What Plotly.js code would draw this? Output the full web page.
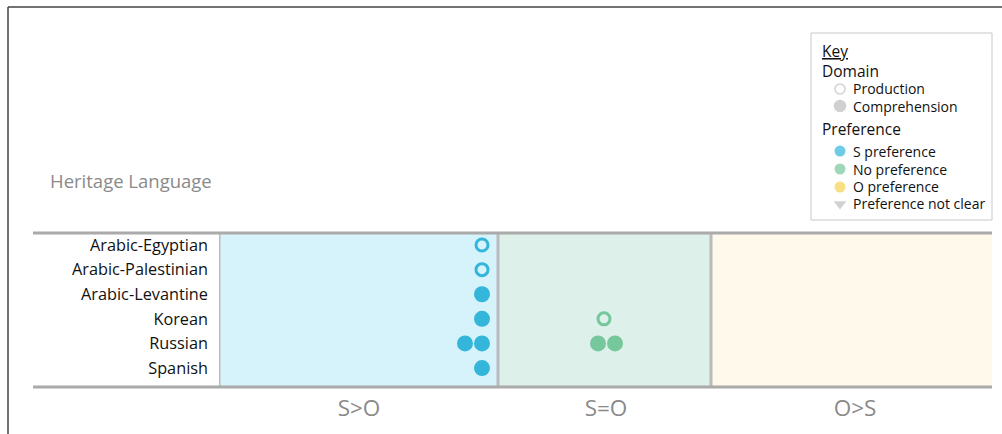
<!DOCTYPE html>
<html>
<head>
<meta charset="utf-8">
<script src="https://cdn.plot.ly/plotly-3.0.1.min.js"></script>
<style>html,body{margin:0;padding:0;background:#fff}#chart{width:1002px;height:434px}</style>
</head>
<body>
<div id="chart"></div>
<script>
// ---- data ----
const languages = ["Arabic-Egyptian","Arabic-Palestinian","Arabic-Levantine","Korean","Russian","Spanish"];
const columns = ["S>O","S=O","O>S"];
// column edges and centres along the horizontal scale
const columnEdges = [0, 279, 492, 773];
const columnCentres = [140, 387, 636];

// each study result: language, position on horizontal scale, domain, preference
const pointLang   = ["Arabic-Egyptian","Arabic-Palestinian","Arabic-Levantine","Korean","Russian","Russian","Spanish","Korean","Russian","Russian"];
const pointPos    = [263, 263, 263, 263, 246, 263, 263, 385, 379, 396];
const pointDomain = ["Production","Production","Comprehension","Comprehension","Comprehension","Comprehension","Comprehension","Production","Comprehension","Comprehension"];
const pointPref   = ["S","S","S","S","S","S","S","No","No","No"];

const prefColors = {S:"#33b6da", No:"#76c79b", O:"#f5d24f", Unclear:"#bdbdbd"};
const panelFills = ["#d6f2fb","#ddf0ea","#fef9eb"];

// legend content
const legendDomainLabels = ["Production","Comprehension"];
const legendPrefLabels = ["S preference","No preference","O preference","Preference not clear"];

// ---- helpers (pixel -> paper) ----
const W = 1002, H = 434;
const PX = x => x / W;
const PY = y => (H - y) / H;

const traces = [];
// main data traces grouped by domain x preference
["Production","Comprehension"].forEach(dom => {
  Object.keys(prefColors).forEach(pref => {
    const xs = [], ys = [];
    pointLang.forEach((l, i) => {
      if (pointDomain[i] === dom && pointPref[i] === pref) { xs.push(pointPos[i]); ys.push(l); }
    });
    if (!xs.length) return;
    const open = dom === "Production";
    traces.push({
      type: "scatter", mode: "markers", x: xs, y: ys, xaxis: "x", yaxis: "y",
      hoverinfo: "skip", showlegend: false,
      marker: open
        ? {symbol: "circle-open", size: 12, color: prefColors[pref], line: {width: 3, color: prefColors[pref]}}
        : {symbol: "circle", size: 16, color: prefColors[pref], line: {width: 0}}
    });
  });
});

// legend markers (on their own axes)
const legX = 29;
traces.push({
  type: "scatter", mode: "markers", xaxis: "x2", yaxis: "y2", hoverinfo: "skip", showlegend: false,
  x: [legX, legX], y: [56, 73],
  marker: {symbol: ["circle-open","circle"], size: [10, 11], color: "#bdbdbd", line: {width: 1.5, color: "#bdbdbd"}}
});
traces.push({
  type: "scatter", mode: "markers", xaxis: "x2", yaxis: "y2", hoverinfo: "skip", showlegend: false,
  x: [legX, legX, legX, legX], y: [118, 136, 154, 171],
  marker: {symbol: ["circle","circle","circle","triangle-down"], size: [11, 11, 11, 11],
           color: [prefColors.S, prefColors.No, prefColors.O, prefColors.Unclear], line: {width: 0}}
});

const shapes = [];
// panel backgrounds
columns.forEach((c, i) => {
  shapes.push({type: "rect", xref: "x", yref: "paper", x0: columnEdges[i], x1: columnEdges[i+1],
    y0: PY(387), y1: PY(233), fillcolor: panelFills[i], line: {width: 0}, layer: "below"});
});
// vertical separators
[0,1,2].forEach(i => {
  shapes.push({type: "line", xref: "x", yref: "paper", x0: columnEdges[i], x1: columnEdges[i],
    y0: PY(387), y1: PY(233), line: {color: "#bbbbbb", width: 3}});
});
// horizontal rules
[233, 387].forEach(y => {
  shapes.push({type: "line", xref: "paper", yref: "paper", x0: PX(33), x1: PX(992),
    y0: PY(y), y1: PY(y), line: {color: "#aaaaaa", width: 3}});
});
// outer frame
shapes.push({type: "line", xref: "paper", yref: "paper", x0: PX(8), x1: PX(8), y0: PY(7), y1: PY(440), line: {color: "#444", width: 1.5}});
shapes.push({type: "line", xref: "paper", yref: "paper", x0: PX(8), x1: PX(1010), y0: PY(7), y1: PY(7), line: {color: "#444", width: 1.5}});
// legend box
shapes.push({type: "rect", xref: "paper", yref: "paper", x0: PX(811), x1: PX(992), y0: PY(220), y1: PY(33),
  line: {color: "#c8c8c8", width: 1}, fillcolor: "#fff", layer: "below"});

const F = "'Open Sans', 'Noto Sans', sans-serif";
const annotations = [
  {text: "Heritage Language", xref: "paper", yref: "paper", x: PX(48), y: PY(180), xanchor: "left", yanchor: "middle",
   showarrow: false, font: {family: F, size: 18.5, color: "#8a8a8a"}},
  {text: "<u>Key</u>", xref: "paper", yref: "paper", x: PX(820), y: PY(51), xanchor: "left", yanchor: "middle",
   showarrow: false, font: {family: F, size: 15.5, color: "#111"}},
  {text: "Domain", xref: "paper", yref: "paper", x: PX(820), y: PY(71), xanchor: "left", yanchor: "middle",
   showarrow: false, font: {family: F, size: 15.5, color: "#111"}},
  {text: "Preference", xref: "paper", yref: "paper", x: PX(820), y: PY(129), xanchor: "left", yanchor: "middle",
   showarrow: false, font: {family: F, size: 15.5, color: "#111"}}
];
const domY = [89, 106], prefY = [151, 169, 187, 204];
legendDomainLabels.forEach((t, i) => annotations.push({text: t, xref: "paper", yref: "paper", x: PX(851), y: PY(domY[i]),
  xanchor: "left", yanchor: "middle", showarrow: false, font: {family: F, size: 14, color: "#111"}}));
legendPrefLabels.forEach((t, i) => annotations.push({text: t, xref: "paper", yref: "paper", x: PX(851), y: PY(prefY[i]),
  xanchor: "left", yanchor: "middle", showarrow: false, font: {family: F, size: 14, color: "#111"}}));

const layout = {
  width: W, height: H, margin: {l: 0, r: 0, t: 0, b: 0},
  paper_bgcolor: "#fff", plot_bgcolor: "rgba(0,0,0,0)",
  showlegend: false,
  xaxis: {domain: [PX(219), PX(992)], range: [columnEdges[0], columnEdges[3]], showgrid: false, zeroline: false,
    showline: false, tickmode: "array", tickvals: columnCentres, ticktext: columns, ticks: "",
    ticklabelstandoff: 5, tickfont: {family: F, size: 22.5, color: "#8a8a8a"}, fixedrange: true},
  yaxis: {domain: [PY(387), PY(233)], type: "category", categoryarray: languages, categoryorder: "array",
    range: [5.77, -0.49], showgrid: false, zeroline: false, showline: false, ticks: "",
    ticklabelstandoff: 10, tickfont: {family: F, size: 16.3, color: "#111"}, fixedrange: true},
  xaxis2: {domain: [PX(811), PX(992)], range: [0, 181], visible: false, fixedrange: true, anchor: "y2"},
  yaxis2: {domain: [PY(220), PY(33)], range: [187, 0], visible: false, fixedrange: true, anchor: "x2"},
  shapes: shapes, annotations: annotations
};

Plotly.newPlot("chart", traces, layout, {displayModeBar: false, staticPlot: true});
</script>
</body>
</html>
